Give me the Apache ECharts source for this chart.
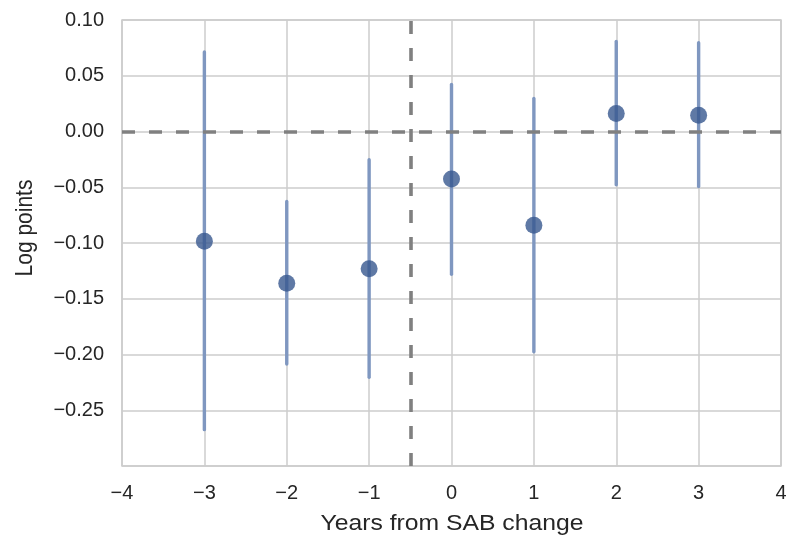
<!DOCTYPE html>
<html>
<head>
<meta charset="utf-8">
<script src="https://cdn.jsdelivr.net/npm/echarts@6/dist/echarts.min.js"></script>
<style>html,body{margin:0;padding:0;background:#fff;}#c{width:786px;height:541px;}</style>
</head>
<body>
<div id="c"></div>
<script>
var years = [-3, -2, -1, 0, 1, 2, 3];
var estimates = [-0.0984, -0.1362, -0.1231, -0.0427, -0.0841, 0.0162, 0.0145];
var lower = [-0.2674, -0.2085, -0.2204, -0.1280, -0.1975, -0.0478, -0.0493];
var upper = [0.0713, -0.0627, -0.0254, 0.0421, 0.0296, 0.0808, 0.0796];
var xTicks = [-4, -3, -2, -1, 0, 1, 2, 3, 4];
var yTicks = [-0.25, -0.20, -0.15, -0.10, -0.05, 0.00, 0.05, 0.10];
var xTitle = 'Years from SAB change';
var yTitle = 'Log points';

function minus(s){ return s.replace('-', '\u2212'); }

var chart = echarts.init(document.getElementById('c'));
var font = 'Liberation Sans, Arial, Helvetica, sans-serif';
chart.setOption({
  backgroundColor: '#fff',
  animation: false,
  grid: {left: 122, right: 5, top: 20, bottom: 75, outerBoundsMode: 'none', containLabel: false,
    show: true, borderColor: '#cccccc', borderWidth: 1.5, backgroundColor: 'transparent'},
  graphic: [
    {type: 'text', x: 452, y: 524, scaleX: 1.15,
      style: {text: xTitle, fill: '#262626', font: '21.5px ' + font, align: 'center', verticalAlign: 'middle'}},
    {type: 'text', x: 26, y: 228, rotation: Math.PI / 2, scaleY: 1.1,
      style: {text: yTitle, fill: '#262626', font: '21px ' + font, align: 'center', verticalAlign: 'middle'}}
  ],
  xAxis: {
    type: 'value', min: -4, max: 4, interval: 1,
    axisLine: {show: false}, axisTick: {show: false},
    axisLabel: {color: '#262626', fontSize: 20, fontFamily: font, margin: 17,
      formatter: function(v){ return minus(String(v)); }},
    splitLine: {show: true, lineStyle: {color: '#cccccc', width: 1.5}}
  },
  yAxis: {
    type: 'value', min: -0.30, max: 0.10, interval: 0.05,
    axisLine: {show: false}, axisTick: {show: false},
    axisLabel: {color: '#262626', fontSize: 20, fontFamily: font, margin: 18,
      formatter: function(v){
        var r = Math.round(v*100)/100;
        if (Math.abs(r + 0.30) < 1e-9) return '';
        return minus(r.toFixed(2));
      }},
    splitLine: {show: true, lineStyle: {color: '#cccccc', width: 1.5}}
  },
  series: [
    {
      type: 'custom',
      data: years.map(function(x, i){ return [x, lower[i], upper[i]]; }),
      renderItem: function(params, api){
        var p1 = api.coord([api.value(0), api.value(1)]);
        var p2 = api.coord([api.value(0), api.value(2)]);
        return {type: 'line', shape: {x1: p1[0], y1: p1[1], x2: p2[0], y2: p2[1]},
          style: {stroke: '#7f97c0', lineWidth: 3.4, lineCap: 'round'}};
      },
      encode: {x: 0, y: [1, 2]},
      z: 2
    },
    {
      type: 'scatter',
      data: years.map(function(x, i){ return [x, estimates[i]]; }),
      symbol: 'circle', symbolSize: 17,
      itemStyle: {color: '#37578f'},
      z: 4,
      markLine: {
        silent: true, symbol: 'none', label: {show: false},
        lineStyle: {color: '#808080', width: 3.6, type: [13, 14]},
        data: [{yAxis: 0}, {xAxis: -0.5}],
        z: 3
      }
    }
  ]
});
</script>
</body>
</html>
